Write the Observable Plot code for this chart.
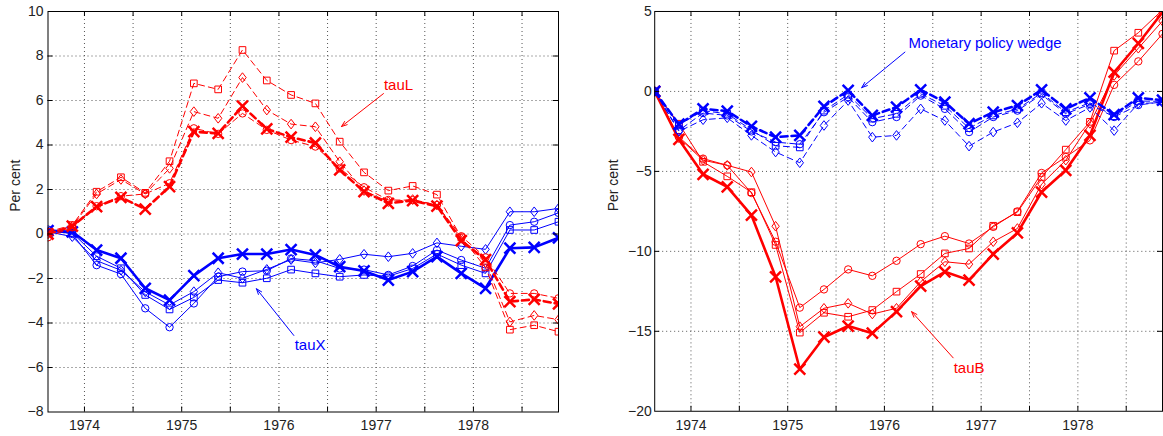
<!DOCTYPE html>
<html><head><meta charset="utf-8">
<script src="https://cdn.jsdelivr.net/npm/d3@7"></script>
<script src="https://cdn.jsdelivr.net/npm/@observablehq/plot@0.6"></script>
<style>
html,body{margin:0;padding:0;background:#fff;overflow:hidden;width:1163px;height:436px;}
#left,#right{position:absolute;top:0;}
#left{left:0;} #right{left:600px;}
</style></head><body>
<div id="left"></div><div id="right"></div>
<script>
// ---- shared x values (quarterly) and ticks ----
const dates = [1973.625,1973.875,1974.125,1974.375,1974.625,1974.875,1975.125,1975.375,1975.625,1975.875,1976.125,1976.375,1976.625,1976.875,1977.125,1977.375,1977.625,1977.875,1978.125,1978.375,1978.625,1978.875];
const xDomain = [1973.625, 1978.875];
const yearLabels = [1974, 1975, 1976, 1977, 1978];
const xMinorTicks = [1974, 1974.5, 1975, 1975.5, 1976, 1976.5, 1977, 1977.5, 1978, 1978.5];

// ---- left panel: tauL (red dashed) and tauX (blue solid) ----
const leftYTicks = [-8,-6,-4,-2,0,2,4,6,8,10];
const tauL_x       = [0,0.35,1.23,1.65,1.12,2.13,4.6,4.52,5.75,4.72,4.35,4.09,2.88,1.9,1.38,1.5,1.25,-0.3,-1.15,-3.04,-2.94,-3.14];
const tauL_circle  = [-0.15,0.3,1.25,1.7,1.8,2.28,4.75,4.5,5.42,4.68,4.22,3.93,2.95,2.1,1.53,1.52,1.3,-0.1,-1.05,-2.67,-2.67,-2.89];
const tauL_diamond = [0,0.35,1.8,2.45,1.8,2.95,5.5,5.2,7.03,5.57,4.94,4.82,3.25,1.95,1.45,1.55,1.3,-0.2,-1.3,-3.95,-3.66,-3.85];
const tauL_square  = [0.1,0.4,1.9,2.55,1.85,3.27,6.77,6.5,8.27,6.9,6.25,5.87,4.15,2.77,1.95,2.16,1.77,-0.15,-1.5,-4.3,-4.1,-4.39];
const tauX_x       = [0.15,0.1,-0.72,-1.09,-2.44,-2.97,-1.87,-1.09,-0.9,-0.9,-0.7,-0.94,-1.47,-1.66,-2.07,-1.69,-1.02,-1.77,-2.44,-0.64,-0.6,-0.17];
const tauX_circle  = [0.2,0,-1.4,-1.8,-3.34,-4.19,-3.12,-1.92,-1.69,-1.65,-1.1,-1.2,-1.55,-1.6,-1.84,-1.44,-0.72,-1.17,-1.54,0.4,0.55,0.95];
const tauX_diamond = [0.1,-0.12,-1.2,-1.63,-2.6,-3.19,-2.59,-1.74,-1.99,-1.59,-1.15,-1.3,-1.14,-0.91,-1.02,-0.87,-0.4,-0.55,-0.69,1.0,1.0,1.15];
const tauX_square  = [0.1,0.05,-1.0,-1.54,-2.74,-3.39,-2.85,-2.07,-2.19,-1.99,-1.6,-1.77,-1.92,-1.84,-1.9,-1.55,-0.9,-1.4,-1.77,0.18,0.18,0.55];

// ---- right panel: tauB (red solid) and monetary policy wedge (blue dashed) ----
const rightYTicks = [-20,-15,-10,-5,0,5];
const tauB_x       = [0,-3.0,-5.18,-5.97,-7.74,-11.59,-17.37,-15.37,-14.67,-15.12,-13.77,-12.17,-11.28,-11.8,-10.17,-8.85,-6.29,-4.93,-2.75,1.2,3.0,4.95];
const tauB_circle  = [0,-2.85,-4.2,-4.62,-6.35,-9.4,-13.52,-12.38,-11.13,-11.53,-10.59,-9.55,-9.05,-9.51,-8.47,-7.5,-5.1,-4.1,-3.06,0.41,1.88,3.6];
const tauB_diamond = [0,-2.9,-4.3,-4.62,-5.04,-8.43,-14.71,-13.56,-13.25,-13.92,-13.56,-11.9,-10.65,-10.8,-9.4,-8.57,-5.8,-4.3,-2.0,1.0,2.7,4.4];
const tauB_square  = [0,-2.02,-4.4,-5.31,-6.3,-9.6,-15.08,-13.84,-14.09,-13.67,-12.52,-11.42,-10.13,-9.82,-8.4,-7.55,-5.35,-3.64,-1.9,2.55,3.67,5.1];
const wedge_x       = [0,-2.05,-1.09,-1.23,-2.19,-2.86,-2.75,-0.94,0.06,-1.5,-0.98,0.1,-0.67,-2.02,-1.3,-0.88,0.1,-1.09,-0.4,-1.45,-0.4,-0.55];
const wedge_circle  = [0,-2.44,-1.35,-1.5,-2.5,-3.17,-3.3,-1.3,-0.36,-1.92,-1.6,-0.26,-1.09,-2.54,-1.6,-1.2,-0.19,-1.4,-0.8,-1.6,-0.85,-0.65];
const wedge_diamond = [0,-2.5,-1.77,-1.65,-2.75,-3.79,-4.46,-2.13,-0.57,-2.86,-2.75,-1.09,-1.82,-3.42,-2.54,-1.96,-0.74,-1.82,-1.0,-2.45,-0.75,-0.7];
const wedge_square  = [0,-2.1,-1.2,-1.4,-2.4,-3.4,-3.5,-1.2,-0.2,-1.7,-1.4,-0.15,-0.9,-2.3,-1.5,-1.1,-0.1,-1.3,-0.7,-1.55,-0.6,-0.62];

// ---- annotations (data coordinates) ----
const leftNotes = [
  {label: "tauL", color: "#ff0000", tx: 1977.23, ty: 6.67, x1: 1977.075, y1: 6.31, x2: 1976.643, y2: 4.83},
  {label: "tauX", color: "#0000ff", tx: 1976.32, ty: -5.01, x1: 1976.153, y1: -4.56, x2: 1975.769, y2: -2.46}
];
const rightNotes = [
  {label: "Monetary policy wedge", color: "#0000ff", tx: 1977.04, ty: 3.02, x1: 1976.212, y1: 2.46, x2: 1975.765, y2: 0.24},
  {label: "tauB", color: "#ff0000", tx: 1976.875, ty: -17.3, x1: 1976.711, y1: -16.66, x2: 1976.281, y2: -13.77}
];

// ---- custom MATLAB-like markers ----
const symCircle = {draw(c, size){ const s = Math.sqrt(size/Math.PI); c.moveTo(s,0); c.arc(0,0,s,0,2*Math.PI); c.closePath(); }};
const symSquare = {draw(c, size){ const h = Math.sqrt(size/Math.PI)*0.9; c.moveTo(-h,-h); c.lineTo(h,-h); c.lineTo(h,h); c.lineTo(-h,h); c.closePath(); }};
const symDiamond = {draw(c, size){ const s = Math.sqrt(size/Math.PI); const w = s*1.0, hh = s*1.3; c.moveTo(0,-hh); c.lineTo(w,0); c.lineTo(0,hh); c.lineTo(-w,0); c.closePath(); }};
const symTimes = {draw(c, size){ const h = Math.sqrt(size/Math.PI); c.moveTo(-h,-h); c.lineTo(h,h); c.moveTo(-h,h); c.lineTo(h,-h); }};

const RED = "#ff0000", BLUE = "#0000ff";
const FONT = "Liberation Sans, Arial, Helvetica, sans-serif";
const fmt = d => d < 0 ? "\u2212" + Math.abs(d) : String(d);

function rows(values){ return dates.map((d,i) => ({date: d, value: values[i]})); }

function seriesMarks(values, color, dashed, thick, sym){
  const data = rows(values);
  return [
    Plot.line(data, {x: "date", y: "value", stroke: color, strokeWidth: thick ? 2.6 : 1,
      strokeDasharray: dashed ? (thick ? "7,4" : "6,4") : null, clip: true, strokeLinejoin: "miter"}),
    Plot.dot(data, {x: "date", y: "value", symbol: sym, r: sym === symTimes ? 5.5 : 3.7,
      stroke: color, fill: "none", strokeWidth: thick ? 2.5 : 1, clip: true})
  ];
}

function panel(el, {width, marginLeft, marginRight, yDomain, yTicks, series, notes, labelDx, tickPad}){
  const height = 436, marginTop = 11, marginBottom = 24.5;
  const innerH = height - marginTop - marginBottom;
  const innerW = width - marginLeft - marginRight;
  const yInner = yTicks.filter(v => v > yDomain[0] && v < yDomain[1]);
  const marks = [
    Plot.ruleX(xMinorTicks, {stroke: "#555", strokeDasharray: "1,3", strokeWidth: 1}),
    Plot.ruleY(yInner, {stroke: "#555", strokeDasharray: "1,3", strokeWidth: 1}),
    ...series.flatMap(s => seriesMarks(...s)),
    Plot.frame({stroke: "black", strokeWidth: 1}),
    Plot.ruleX(xMinorTicks, {stroke: "black", insetTop: innerH - 5}),
    Plot.ruleX(xMinorTicks, {stroke: "black", insetBottom: innerH - 5}),
    Plot.ruleY(yInner, {stroke: "black", insetRight: innerW - 5}),
    Plot.ruleY(yInner, {stroke: "black", insetLeft: innerW - 5}),
    Plot.axisX({ticks: yearLabels, tickSize: 0, tickPadding: 8.5, tickFormat: d => String(d), label: null, fontSize: 14, fill: "#222"}),
    Plot.axisY({ticks: yTicks, tickSize: 0, tickPadding: tickPad, tickFormat: fmt, label: null, fontSize: 14, fill: "#222"}),
    Plot.text(["Per cent"], {frameAnchor: "left", rotate: -90, dx: labelDx, fontSize: 14, fill: "#222"}),
    ...notes.flatMap(n => [
      Plot.arrow([n], {x1: "x1", y1: "y1", x2: "x2", y2: "y2", stroke: n.color, strokeWidth: 1, bend: 0, headLength: 9, headAngle: 40}),
      Plot.text([n], {x: "tx", y: "ty", text: "label", fill: n.color, fontSize: 15})
    ])
  ];
  const svg = Plot.plot({
    width, height, marginTop, marginBottom, marginLeft, marginRight,
    style: {fontFamily: FONT, fontSize: "14px", background: "transparent", color: "black", overflow: "visible"},
    x: {domain: xDomain},
    y: {domain: yDomain},
    marks
  });
  document.getElementById(el).appendChild(svg);
}

panel("left", {
  width: 560, marginLeft: 47.5, marginRight: 2, yDomain: [-8, 10], yTicks: leftYTicks, labelDx: -32.5, tickPad: 4.5,
  series: [
    [tauX_circle, BLUE, false, false, symCircle],
    [tauX_diamond, BLUE, false, false, symDiamond],
    [tauX_square, BLUE, false, false, symSquare],
    [tauX_x, BLUE, false, true, symTimes],
    [tauL_circle, RED, true, false, symCircle],
    [tauL_diamond, RED, true, false, symDiamond],
    [tauL_square, RED, true, false, symSquare],
    [tauL_x, RED, true, true, symTimes]
  ],
  notes: leftNotes
});

panel("right", {
  width: 564, marginLeft: 54.3, marginRight: 1, yDomain: [-20, 5], yTicks: rightYTicks, labelDx: -41, tickPad: 3,
  series: [
    [tauB_circle, RED, false, false, symCircle],
    [tauB_diamond, RED, false, false, symDiamond],
    [tauB_square, RED, false, false, symSquare],
    [tauB_x, RED, false, true, symTimes],
    [wedge_circle, BLUE, true, false, symCircle],
    [wedge_diamond, BLUE, true, false, symDiamond],
    [wedge_square, BLUE, true, false, symSquare],
    [wedge_x, BLUE, true, true, symTimes]
  ],
  notes: rightNotes
});
</script>
</body></html>
